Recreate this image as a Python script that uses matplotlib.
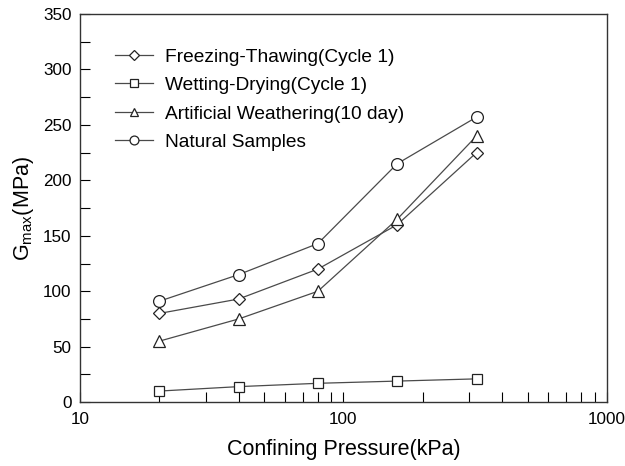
import numpy as np
import matplotlib
matplotlib.use('Agg')
from matplotlib import pyplot as plt
from matplotlib.ticker import MultipleLocator, FixedLocator, FixedFormatter, NullFormatter

plt.rcParams['font.family'] = ['Liberation Sans', 'DejaVu Sans']

pressure = [20, 40, 80, 160, 320]
freeze_thaw = [80, 93, 120, 160, 225]
wet_dry = [10, 14, 17, 19, 21]
artificial = [55, 75, 100, 165, 240]
natural = [91, 115, 143, 215, 257]

labels = ['Freezing-Thawing(Cycle 1)', 'Wetting-Drying(Cycle 1)',
          'Artificial Weathering(10 day)', 'Natural Samples']
markers = ['D', 's', '^', 'o']
sizes = [6.5, 7.5, 8, 8.5]

fig = plt.figure(figsize=(6.25, 4.66), dpi=100)
ax = fig.add_axes([0.128, 0.137, 0.843, 0.833])

for ys, lab, m, s in zip([freeze_thaw, wet_dry, artificial, natural], labels, markers, sizes):
    ax.plot(pressure, ys, color='#4a4a4a', lw=0.9, marker=m, ms=s,
            mfc='white', mec='#222222', mew=0.9, label=lab)

ax.set_xscale('log')
ax.set_xlim(10, 1000)
ax.set_ylim(0, 350)
ax.yaxis.set_major_locator(MultipleLocator(50))
ax.yaxis.set_minor_locator(MultipleLocator(25))
ax.xaxis.set_major_locator(FixedLocator([10, 100, 1000]))
ax.xaxis.set_major_formatter(FixedFormatter(['10', '100', '1000']))
ax.xaxis.set_minor_locator(FixedLocator([v * d for d in [10, 100] for v in range(2, 10)]))
ax.xaxis.set_minor_formatter(NullFormatter())

ax.tick_params(which='both', direction='in', top=False, right=False, labelsize=12.3)
ax.tick_params(which='both', length=7, width=0.8)
ax.tick_params(axis='x', pad=7)
ax.tick_params(axis='y', pad=6)
for sp in ax.spines.values():
    sp.set_color('#333333')
    sp.set_linewidth(1.0)
# keep the last x label inside the figure
ax.get_xticklabels()[-1].set_horizontalalignment('center')

ax.set_xlabel('Confining Pressure(kPa)', fontsize=15.5, labelpad=9)
ax.set_ylabel(r'G$_{\mathregular{max}}$(MPa)', fontsize=15.5, labelpad=5)

ax.legend(loc='upper left', frameon=False, fontsize=13.8, bbox_to_anchor=(0.066, 0.912),
          borderpad=0, borderaxespad=0, handlelength=2.0, handletextpad=0.6,
          labelspacing=0.58, markerscale=0.75)

fig.savefig('out.png', dpi=100)
